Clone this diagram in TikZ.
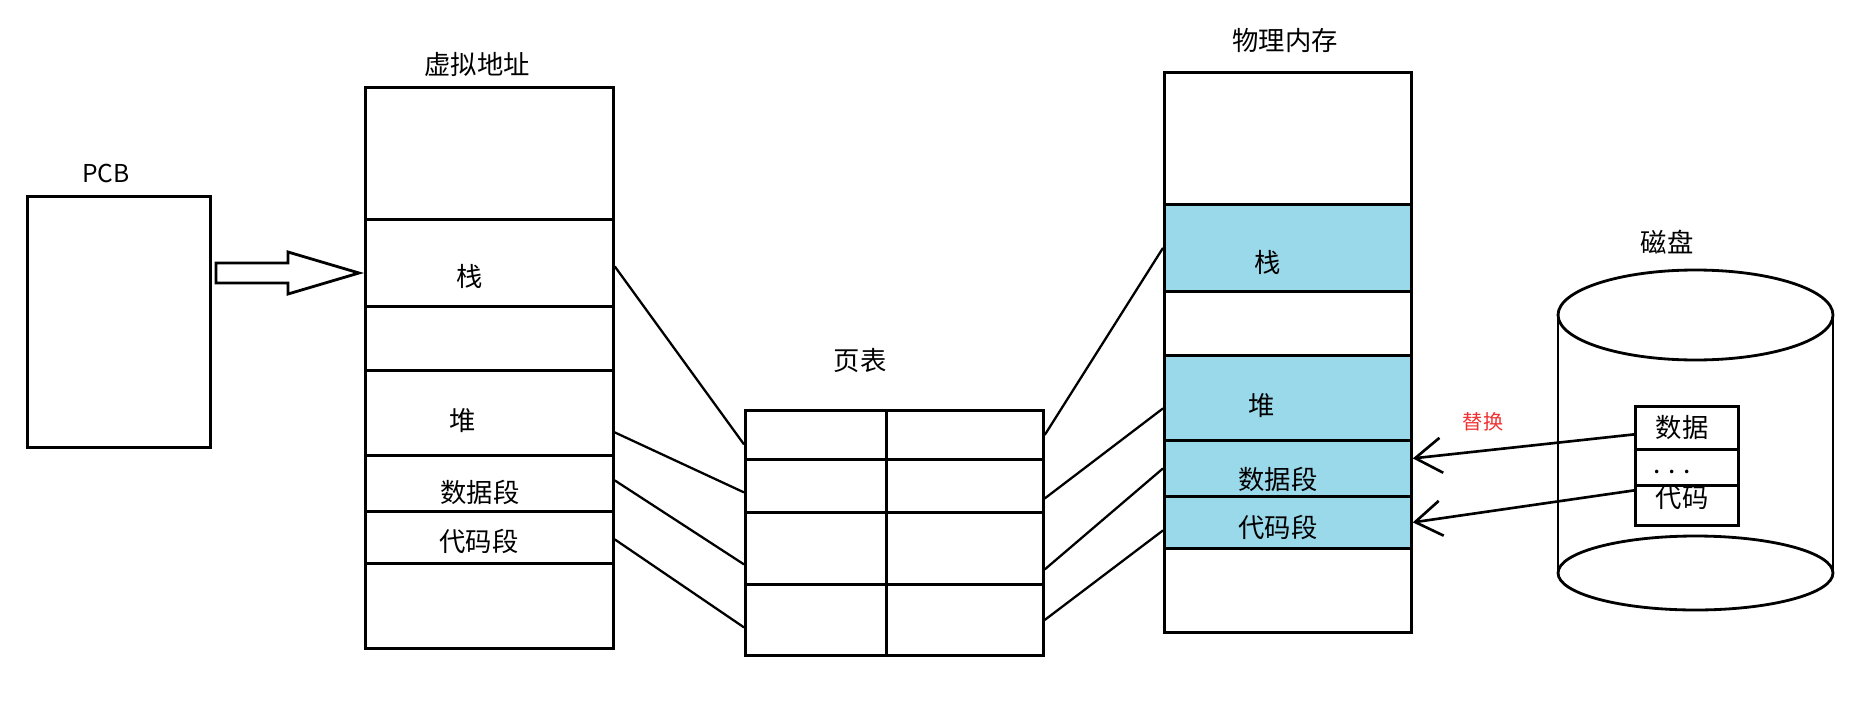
\documentclass[tikz,border=0pt]{standalone}
\usepackage{fontspec}
\setmainfont{Noto Sans CJK SC}
\definecolor{memblue}{RGB}{153,217,234}
\definecolor{swapred}{RGB}{240,50,50}
\usetikzlibrary{arrows.meta}

\begin{document}
\begin{tikzpicture}[x=0.02cm, y=-0.02cm,
    seg/.style={rectangle, draw=black, line width=1.6pt, inner sep=0pt, anchor=north west},
    vseg/.style={seg, minimum width=4.96cm},
    pseg/.style={seg, minimum width=4.94cm},
    used/.style={fill=memblue},
    lbl/.style={font=\fontsize{15}{18}\selectfont},
    link/.style={line width=1.3pt},
    swap/.style={-{Straight Barb[length=15pt,width=20pt]}, line width=1.5pt}
  ]
    \useasboundingbox (0,0) rectangle (1855,706);

    % PCB
    \node[lbl, font=\fontsize{14}{16}\selectfont] (pcbtitle) at (106,173) {PCB};
    \node[seg, minimum width=3.66cm, minimum height=5.02cm] (pcb) at (26,195) {};
    \coordinate (pcbout) at (216,273);
    \draw[line width=1.6pt, line join=miter] (pcbout) -- ++(0,-10) -- ++(72,0) -- ++(0,-11)
      -- ++(71,21) -- ++(-71,21) -- ++(0,-11) -- ++(-72,0) -- cycle;

    % virtual address space
    \node[lbl] (vtitle) at (477,64) {虚拟地址};
    \node[vseg, minimum height=2.64cm] (vtop)    at (364,86)  {};
    \node[vseg, minimum height=1.74cm] (vstack)  at (364,218) {};
    \node[vseg, minimum height=1.28cm] (vgap)    at (364,305) {};
    \node[vseg, minimum height=1.70cm] (vheap)   at (364,369) {};
    \node[vseg, minimum height=1.12cm] (vdata)   at (364,454) {};
    \node[vseg, minimum height=1.04cm] (vcode)   at (364,510) {};
    \node[vseg, minimum height=1.70cm] (vbottom) at (364,562) {};
    \node[lbl] (vstacklbl) at (470,276) {栈};
    \node[lbl] (vheaplbl)  at (463,421) {堆};
    \node[lbl] (vdatalbl)  at (480,492) {数据段};
    \node[lbl] (vcodelbl)  at (479,541) {代码段};

    % page table
    \node[lbl] (pttitle) at (860,361) {页表};
    \node[seg, minimum width=2.82cm, minimum height=0.98cm] (pt1l) at (744,409) {};
    \node[seg, minimum width=3.14cm, minimum height=0.98cm] (pt1r) at (885,409) {};
    \node[seg, minimum width=2.82cm, minimum height=1.06cm] (pt2l) at (744,458) {};
    \node[seg, minimum width=3.14cm, minimum height=1.06cm] (pt2r) at (885,458) {};
    \node[seg, minimum width=2.82cm, minimum height=1.44cm] (pt3l) at (744,511) {};
    \node[seg, minimum width=3.14cm, minimum height=1.44cm] (pt3r) at (885,511) {};
    \node[seg, minimum width=2.82cm, minimum height=1.42cm] (pt4l) at (744,583) {};
    \node[seg, minimum width=3.14cm, minimum height=1.42cm] (pt4r) at (885,583) {};

    % physical memory
    \node[lbl] (ptitle) at (1285,41) {物理内存};
    \node[pseg, minimum height=2.64cm]       (ptop)    at (1163,71)  {};
    \node[pseg, used, minimum height=1.74cm] (pstack)  at (1163,203) {};
    \node[pseg, minimum height=1.28cm]       (pgap)    at (1163,290) {};
    \node[pseg, used, minimum height=1.70cm] (pheap)   at (1163,354) {};
    \node[pseg, used, minimum height=1.12cm] (pdata)   at (1163,439) {};
    \node[pseg, used, minimum height=1.04cm] (pcode)   at (1163,495) {};
    \node[pseg, minimum height=1.68cm]       (pbottom) at (1163,547) {};
    \node[lbl] (pstacklbl) at (1268,262) {栈};
    \node[lbl] (pheaplbl)  at (1262,406) {堆};
    \node[lbl] (pdatalbl)  at (1278,479) {数据段};
    \node[lbl] (pcodelbl)  at (1278,527) {代码段};

    % disk
    \node[lbl] (dtitle) at (1667,242) {磁盘};
    \draw[line width=1.6pt] (1695.5,315) ellipse [x radius=2.75cm, y radius=0.9cm];
    \draw[line width=1.6pt] (1695.5,573) ellipse [x radius=2.75cm, y radius=0.74cm];
    \draw[line width=1.6pt] (1558,315) -- (1558,573);
    \draw[line width=1.6pt] (1833,315) -- (1833,573);
    \node[seg, minimum width=2.06cm, minimum height=0.86cm] (ddata) at (1634,405) {};
    \node[seg, minimum width=2.06cm, minimum height=0.72cm] (ddots) at (1634,448) {};
    \node[seg, minimum width=2.06cm, minimum height=0.80cm] (dcode) at (1634,484) {};
    \node[lbl] (ddatalbl) at (1682,428) {数据};
    \node[lbl] (ddotslbl) at (1672,472) {. . .};
    \node[lbl] (dcodelbl) at (1682,498) {代码};

    % virtual -> page table -> physical
    \draw[link] ([yshift=-0.07cm]vstack.east) -- ([yshift=-0.19cm]pt1l.west);
    \draw[link] ([yshift=-0.39cm]vheap.east) -- ([yshift=-0.13cm]pt2l.west);
    \draw[link] ([yshift=0.06cm]vdata.east) -- ([yshift=-0.32cm]pt3l.west);
    \draw[link] ([yshift=-0.04cm]vcode.east) -- ([yshift=-0.15cm]pt4l.west);
    \draw[link] (pt1r.east) -- (pstack.west);
    \draw[link] ([yshift=-0.25cm]pt2r.east) -- ([yshift=-0.21cm]pheap.west);
    \draw[link] ([yshift=-0.42cm]pt3r.east) -- (pdata.west);
    \draw[link] (pt4r.east) -- ([yshift=-0.16cm]pcode.west);

    % swap in from disk
    \node[font=\fontsize{11.5}{14}\selectfont, text=swapred] (swaplbl) at (1483,422) {替换};
    \draw[swap] ([yshift=-0.13cm]ddata.west) -- ([yshift=0.2cm]pdata.east);
    \draw[swap] ([yshift=0.3cm]dcode.west) -- (pcode.east);
  \end{tikzpicture}
\end{document}
